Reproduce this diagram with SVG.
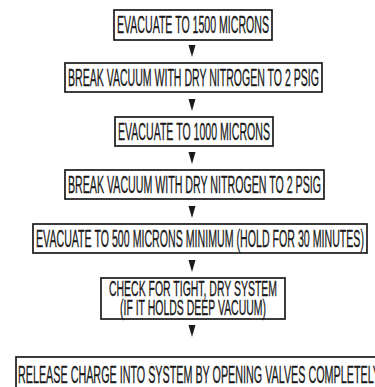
<svg xmlns="http://www.w3.org/2000/svg" width="375" height="387" viewBox="0 0 375 387">
<style>
.box{fill:#fff;stroke:#1a1a1a;stroke-width:1.7}
.t{font-family:"Liberation Sans Narrow","Liberation Sans",Arial,sans-serif;font-size:23px;fill:#1a1a1a;stroke:#1a1a1a;stroke-width:0.35;text-anchor:middle}
.arr{fill:#1a1a1a}
</style>
<rect width="375" height="387" fill="#fff"/>
<g id="connectors">
<polygon class="arr" points="188.5,45 195.5,45 192,57"/>
<polygon class="arr" points="188.5,99 195.5,99 192,111"/>
<polygon class="arr" points="188.5,152 195.5,152 192,164"/>
<polygon class="arr" points="188.5,206 195.5,206 192,218"/>
<polygon class="arr" points="188.5,260 195.5,260 192,272"/>
<polygon class="arr" points="188.5,325 195.5,325 192,337"/>
</g>
<g id="n1"><rect class="box" x="114" y="10" width="158" height="30"/><text class="t" x="193" y="33" textLength="152" lengthAdjust="spacingAndGlyphs">EVACUATE TO 1500 MICRONS</text></g>
<g id="n2"><rect class="box" x="65" y="63" width="257" height="29"/><text class="t" x="193.5" y="86" textLength="251" lengthAdjust="spacingAndGlyphs">BREAK VACUUM WITH DRY NITROGEN TO 2 PSIG</text></g>
<g id="n3"><rect class="box" x="115" y="117" width="158" height="29"/><text class="t" x="194" y="140" textLength="152" lengthAdjust="spacingAndGlyphs">EVACUATE TO 1000 MICRONS</text></g>
<g id="n4"><rect class="box" x="65" y="170" width="259" height="29"/><text class="t" x="194.5" y="193" textLength="253" lengthAdjust="spacingAndGlyphs">BREAK VACUUM WITH DRY NITROGEN TO 2 PSIG</text></g>
<g id="n5"><rect class="box" x="33" y="224" width="334" height="29"/><text class="t" x="200" y="247" textLength="328" lengthAdjust="spacingAndGlyphs">EVACUATE TO 500 MICRONS MINIMUM (HOLD FOR 30 MINUTES)</text></g>
<g id="n6"><rect class="box" x="101" y="278" width="184" height="41"/><text class="t" x="193" y="296" style="font-size:22px" textLength="168" lengthAdjust="spacingAndGlyphs">CHECK FOR TIGHT, DRY SYSTEM</text><text class="t" x="193" y="315" style="font-size:22px" textLength="146" lengthAdjust="spacingAndGlyphs">(IF IT HOLDS DEEP VACUUM)</text></g>
<g id="n7"><rect class="box" x="16" y="357" width="380" height="40"/><text class="t" x="18" y="383" style="text-anchor:start" textLength="362" lengthAdjust="spacingAndGlyphs">RELEASE CHARGE INTO SYSTEM BY OPENING VALVES COMPLETELY</text></g>
</svg>
